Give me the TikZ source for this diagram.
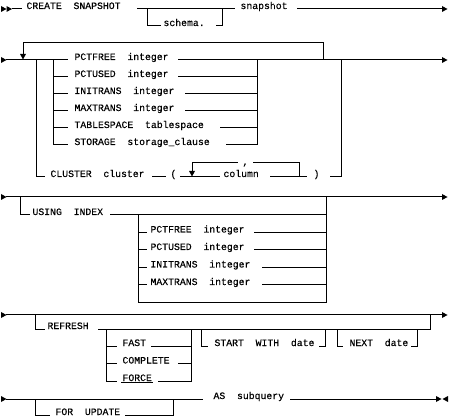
\documentclass[tikz,border=0pt]{standalone}
\usepackage{fontspec}
\newfontfamily\rrfont[FakeBold=0.25]{Liberation Mono}
\newcommand\rarr[2]{\fill (#1-0.5,#2-3) -- (#1+5,#2) -- (#1-0.5,#2+3) -- cycle;}
\newcommand\larr[2]{\fill (#1+0.5,#2-3) -- (#1-5,#2) -- (#1+0.5,#2+3) -- cycle;}
\newcommand\darr[2]{\fill (#1-3,#2-6) -- (#1+3,#2-6) -- (#1,#2-0.5) -- cycle;}
\begin{document}
\begin{tikzpicture}[x=1pt,y=-1pt,line width=1pt,line join=miter,
  txt/.style={anchor=base west,inner sep=0pt,font=\rrfont\fontsize{9.8}{10}\selectfont}]
\fill[white] (0,0) rectangle (452,419);
\useasboundingbox (0,0) rectangle (452,419);
% ---------- row 1
\rarr{1.5}{9}\rarr{7}{9}
\draw (12,9) -- (22,9);
\node[txt] (create) at (26,9) {CREATE~~SNAPSHOT};
\draw (137,9) -- (235,9);
\draw (147,9) |- (161,26);
\node[txt] (schema) at (163,26) {schema.};
\draw (216,26) -| (222,9);
\node[txt] (snap) at (240,9) {snapshot};
\draw (297,9) -- (443,9);
\rarr{442.5}{9}
% ---------- row 2
\rarr{1.5}{60}
\draw (6,60) -- (68,60);
\node[txt] (pf1) at (74,60) {PCTFREE~~integer};
\draw (178,60) -- (443,60);
\rarr{442.5}{60}
\draw (23,54) -- (23,43) -- (323,43) -- (323,60);
\darr{23}{60}
\draw (36,60) -- (36,177) -- (45,177);
\draw (53,60) -- (53,145) -- (68,145);
\draw (53,77) -- (68,77);
\draw (53,94) -- (68,94);
\draw (53,111) -- (68,111);
\draw (53,128) -- (68,128);
\node[txt] (pu1) at (74,77) {PCTUSED~~integer};
\node[txt] (it1) at (74,94) {INITRANS~~integer};
\node[txt] (mt1) at (74,111) {MAXTRANS~~integer};
\node[txt] (ts1) at (74,128) {TABLESPACE~~tablespace};
\node[txt] (st1) at (74,145) {STORAGE~~storage\_clause};
\draw (178,77) -- (257,77);
\draw (185,94) -- (257,94);
\draw (185,111) -- (257,111);
\draw (220,128) -- (257,128);
\draw (226,145) -| (257,60);
% cluster
\node[txt] (cl) at (50,177) {CLUSTER~~cluster};
\draw (152,177) -- (166,177);
\node[txt] (lp) at (170,177) {(};
\draw (180,177) -- (220,177);
\draw (192,171) -- (192,163) -- (238,163);
\darr{192}{177}
\node[txt] (comma) at (242,165) {,};
\draw (253,163) -- (299,163) -- (299,177);
\node[txt] (col) at (223,177) {column};
\draw (270,177) -- (307,177);
\node[txt] (rp) at (313,177) {)};
\draw (330,177) -- (341,177) -- (341,60);
% ---------- row 3
\rarr{1.5}{197}
\draw (6,197) -- (443,197);
\rarr{442.5}{197}
\draw (20,197) |- (30,215);
\node[txt] (ui) at (32,215) {USING~~INDEX};
\draw (110,215) -- (326,215);
\draw (326,197) -- (326,302.5) -- (138,302.5) -- (138,215);
\draw (138,232.5) -- (147,232.5);
\draw (138,250) -- (147,250);
\draw (138,267.5) -- (147,267.5);
\draw (138,285) -- (147,285);
\node[txt] (pf2) at (150,232.5) {PCTFREE~~integer};
\node[txt] (pu2) at (150,250) {PCTUSED~~integer};
\node[txt] (it2) at (150,267.5) {INITRANS~~integer};
\node[txt] (mt2) at (150,285) {MAXTRANS~~integer};
\draw (254,232.5) -- (326,232.5);
\draw (254,250) -- (326,250);
\draw (262,267.5) -- (326,267.5);
\draw (262,285) -- (326,285);
% ---------- row 4
\rarr{1.5}{315}
\draw (6,315) -- (443,315);
\rarr{442.5}{315}
\draw (35,315) |- (45,329);
\node[txt] (ref) at (47,329) {REFRESH};
\draw (98,329) -- (430,329) -- (430,315);
\draw (106,329) -- (106,381) -- (117,381);
\draw (106,346) -- (117,346);
\draw (106,363.5) -- (117,363.5);
\node[txt] (fast) at (122,346) {FAST};
\node[txt] (comp) at (122,363.5) {COMPLETE};
\node[txt] (force) at (122,381) {FORCE};
\draw (121,382.5) -- (153,382.5);
\draw (151,346) -- (191,346);
\draw (178,363.5) -- (191,363.5);
\draw (158,381) -- (191,381) -- (191,329);
\draw (201,329) |- (208,346);
\node[txt] (sw) at (214,346) {START~~WITH~~date};
\draw (319,346) -| (325,329);
\draw (337,329) |- (343,346);
\node[txt] (nx) at (349,346) {NEXT~~date};
\draw (411,346) -| (417,329);
% ---------- row 5
\rarr{1.5}{399}
\draw (6,399) -- (203,399);
\node[txt] (as) at (213,399) {AS~~subquery};
\draw (290,399) -- (437,399);
\rarr{436.5}{399}\larr{447.5}{399}
\draw (35,399) |- (50,415);
\node[txt] (fu) at (55,415) {FOR~~UPDATE};
\draw (125,415) -| (173,399);
\end{tikzpicture}
\end{document}
